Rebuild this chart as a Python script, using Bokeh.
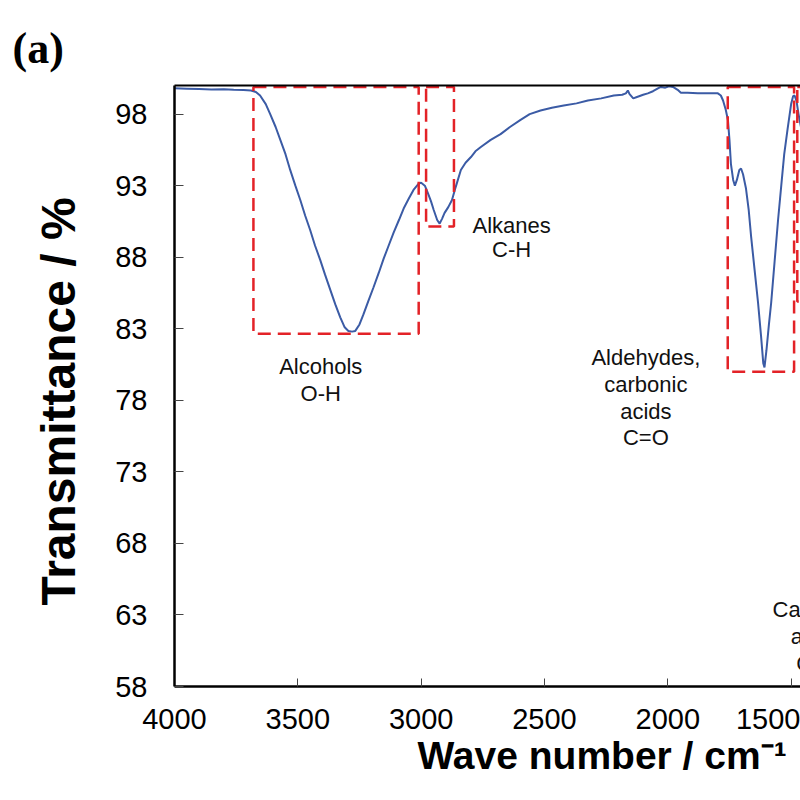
from bokeh.plotting import figure
from bokeh.models import Range1d, LinearAxis, FixedTicker, Title, ColumnDataSource
from bokeh.embed import file_html
from bokeh.resources import INLINE
from bokeh.core.properties import value

# FTIR spectrum: wave number (cm-1) and transmittance (%)
wavenumber = [
    4000, 3950, 3900, 3850, 3800, 3760, 3720, 3690, 3670, 3653, 3630, 3612,
    3590, 3571, 3550, 3531, 3510, 3490, 3470, 3450, 3430, 3409, 3390, 3368,
    3348, 3328, 3310, 3295, 3280, 3267, 3250, 3234, 3215, 3193, 3172, 3152,
    3132, 3112, 3090, 3071, 3050, 3031, 3010, 3000, 2985, 2973, 2960, 2949,
    2935, 2925, 2915, 2905, 2890, 2875, 2860, 2839, 2820, 2798, 2780, 2758,
    2718, 2678, 2640, 2597, 2560, 2516, 2470, 2422, 2370, 2324, 2270, 2219,
    2185, 2170, 2162, 2155, 2140, 2125, 2100, 2081, 2060, 2040, 2028, 2010,
    1995, 1979, 1960, 1947, 1920, 1878, 1840, 1797, 1785, 1776, 1765, 1756,
    1750, 1744, 1735, 1728, 1720, 1710, 1703, 1695, 1683, 1672, 1662, 1648,
    1634, 1622, 1613, 1608, 1600, 1590, 1581, 1567, 1553, 1540, 1528, 1514,
    1500, 1492, 1486, 1478, 1470, 1460, 1445,
]
transmittance = [
    99.80, 99.78, 99.75, 99.72, 99.74, 99.70, 99.68, 99.65, 99.55, 99.30, 98.70, 98.00,
    97.10, 96.20, 95.20, 94.10, 93.00, 92.00, 90.90, 89.90, 88.80, 87.80, 86.80, 85.70,
    84.70, 83.80, 83.10, 82.85, 82.80, 82.85, 83.30, 84.00, 84.90, 85.90, 86.90, 87.90,
    88.80, 89.70, 90.60, 91.40, 92.10, 92.70, 93.15, 93.20, 93.00, 92.50, 91.90, 91.30,
    90.60, 90.35, 90.70, 91.10, 91.50, 92.00, 92.90, 94.10, 94.60, 95.00, 95.40, 95.70,
    96.20, 96.60, 97.10, 97.60, 98.00, 98.25, 98.45, 98.60, 98.75, 98.95, 99.10, 99.30,
    99.35, 99.45, 99.65, 99.40, 99.10, 99.20, 99.35, 99.45, 99.60, 99.80, 99.90, 99.85,
    99.95, 99.90, 99.70, 99.50, 99.50, 99.45, 99.45, 99.45, 99.30, 98.95, 98.30, 97.55,
    96.20, 94.50, 93.40, 93.00, 93.40, 94.10, 94.20, 93.80, 92.80, 91.30, 89.40, 87.10,
    84.80, 82.50, 80.60, 80.30, 81.50, 83.30, 84.80, 87.70, 90.60, 93.00, 95.20, 97.00,
    98.70, 99.25, 99.30, 98.90, 98.00, 97.10, 95.50,
]

# Absorption bands marked with dashed boxes
band_left = [3680, 2980, 1757, 1475]
band_right = [3010, 2867, 1488, 1380]
band_bottom = [82.65, 90.15, 80.0, 84.9]
band_top = [99.9, 99.9, 99.9, 99.9]

# Band annotations, one entry per text line
note_text = ["Alcohols", "O-H",
             "Alkanes", "C-H",
             "Aldehydes,", "carbonic", "acids", "C=O",
             "Carbonic", "acids", "C-O"]
note_x = [3407, 3407,
          2633, 2633,
          2089, 2089, 2089, 2089,
          1397, 1397, 1397]
note_y = [80.36, 78.48,
          90.25, 88.57,
          80.99, 79.11, 77.22, 75.40,
          63.38, 61.50, 59.60]

y_ticks = [58, 63, 68, 73, 78, 83, 88, 93, 98]
x_ticks = [4000, 3500, 3000, 2500, 2000, 1500]

FONT = "Liberation Sans"

p = figure(width=800, height=800, output_backend="svg", toolbar_location=None,
           x_range=Range1d(4000, 1462), y_range=Range1d(58, 100),
           min_border_left=174, min_border_right=0,
           min_border_top=85, min_border_bottom=114,
           background_fill_color="white", border_fill_color="white")
p.outline_line_color = None
p.grid.visible = False

# bottom axis
xa = p.xaxis[0]
xa.ticker = FixedTicker(ticks=x_ticks)
xa.axis_line_width = 2.5
xa.axis_line_color = "black"
xa.major_tick_in = 8
xa.major_tick_out = 0
xa.major_tick_line_color = "#444444"
xa.major_tick_line_width = 1
xa.minor_tick_line_color = None
xa.major_label_text_font = FONT
xa.major_label_text_font_size = "29px"
xa.major_label_text_color = "black"
xa.major_label_standoff = 22

# left axis
ya = p.yaxis[0]
ya.ticker = FixedTicker(ticks=y_ticks)
ya.axis_line_width = 2.5
ya.axis_line_color = "black"
ya.major_tick_in = 9
ya.major_tick_out = 0
ya.major_tick_line_color = "#444444"
ya.major_tick_line_width = 1
ya.minor_tick_line_color = None
ya.major_label_text_font = FONT
ya.major_label_text_font_size = "29px"
ya.major_label_text_color = "black"
ya.major_label_standoff = 27

# top border of the frame: a bare axis line with nothing else
top = LinearAxis(ticker=FixedTicker(ticks=[]), axis_line_width=2, axis_line_color="black",
                 major_label_text_font_size="0px", major_label_standoff=0,
                 major_tick_in=0, major_tick_out=0, minor_tick_in=0, minor_tick_out=0,
                 minor_tick_line_color=None, major_tick_line_color=None)
p.add_layout(top, "above")

# spectrum
p.line(wavenumber, transmittance, line_color="#3b5ba5", line_width=2)

# dashed band boxes
p.quad(left=band_left, right=band_right, bottom=band_bottom, top=band_top,
       fill_color=None, line_color="#e32227", line_width=2.5, line_dash="13 7")

# band notes
notes = ColumnDataSource(dict(x=note_x, y=note_y, text=note_text))
p.text(x="x", y="y", text="text", source=notes, text_align="center",
       text_baseline="middle", text_font=value(FONT), text_font_size="22px",
       text_color="#111111")

# y axis title
p.add_layout(Title(text="Transmittance / %", align="left", offset=81,
                   standoff=55, text_font=FONT, text_font_size="48px",
                   text_font_style="bold", text_color="black"), "left")

# x axis title
p.add_layout(Title(text="Wave number / cm\u207b\u00b9", align="left", offset=243,
                   standoff=0, text_font=FONT, text_font_size="39px",
                   text_font_style="bold", text_color="black"), "below")

# panel tag
p.add_layout(Title(text="(a)", align="left", offset=-162, standoff=22,
                   vertical_align="top",
                   text_font="Liberation Serif", text_font_size="44px",
                   text_font_style="bold", text_color="black"), "above")

open("out.html", "w").write(file_html(p, INLINE))
